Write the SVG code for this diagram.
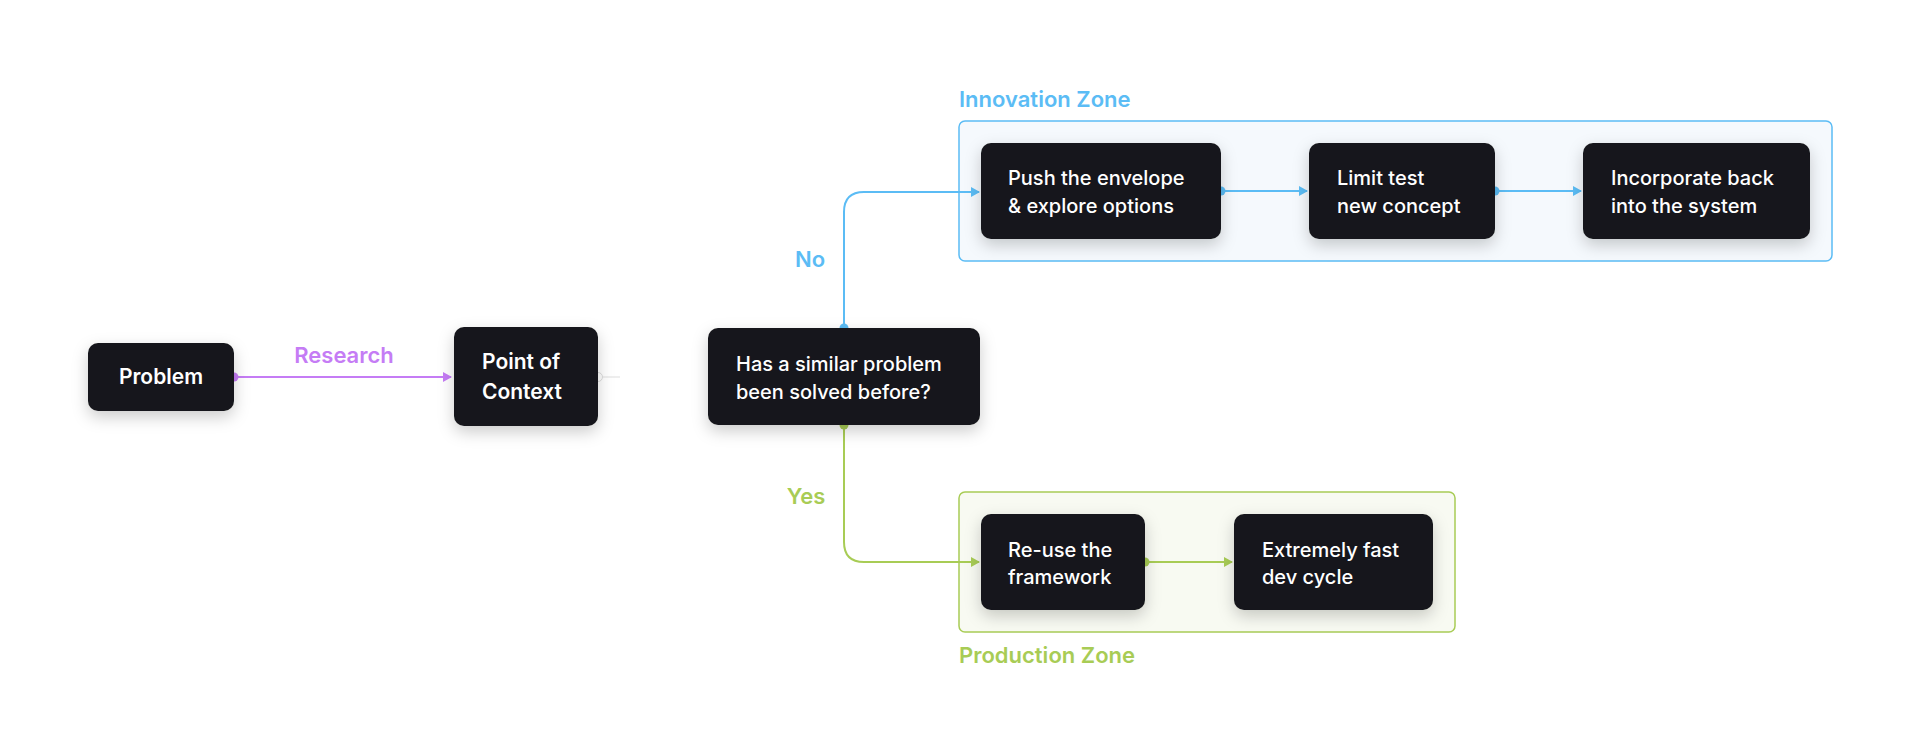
<svg xmlns="http://www.w3.org/2000/svg" width="1920" height="754" viewBox="0 0 1920 754">
<style>
text{font-family:Inter,"Noto Sans",sans-serif}
.n{fill:#17191c}
.t{fill:#fff;font-size:20px;font-weight:500}
.tb{fill:#fff;font-size:21px;font-weight:600}
.lbl{font-size:22px;font-weight:600}
</style>
<defs>
<filter id="sh" x="-20%" y="-20%" width="140%" height="160%"><feDropShadow dx="0" dy="6" stdDeviation="8" flood-color="#000" flood-opacity="0.2"/></filter>
<marker id="ap" markerWidth="10" markerHeight="10" refX="8" refY="5" orient="auto" markerUnits="userSpaceOnUse"><path d="M0,0 L9,5 L0,10 z" fill="#c57cf5"/></marker>
<marker id="ab" markerWidth="10" markerHeight="10" refX="8" refY="5" orient="auto" markerUnits="userSpaceOnUse"><path d="M0,0 L9,5 L0,10 z" fill="#5bbcf5"/></marker>
<marker id="ag" markerWidth="10" markerHeight="10" refX="8" refY="5" orient="auto" markerUnits="userSpaceOnUse"><path d="M0,0 L9,5 L0,10 z" fill="#a8cc55"/></marker>
</defs>
<rect width="1920" height="754" fill="#fff"/>
<g id="innovation-zone">
<rect x="959" y="121" width="873" height="140" rx="6" fill="#f5f9fd" stroke="#5bbcf5" stroke-width="1.5"/>
<text x="959" y="107" class="lbl" fill="#5bbcf5">Innovation Zone</text>
</g>
<g id="production-zone">
<rect x="959" y="492" width="496" height="140" rx="6" fill="#f8faf2" stroke="#a8cc55" stroke-width="1.5"/>
<text x="959" y="663" class="lbl" fill="#a8cc55">Production Zone</text>
</g>
<g id="connectors" fill="none" stroke-width="2">
<line x1="234" y1="377" x2="451" y2="377" stroke="#c57cf5" marker-end="url(#ap)"/>
<line x1="598" y1="377" x2="620" y2="377" stroke="#eee"/>
<path d="M844,328 V212 Q844,192 864,192 H979" stroke="#5bbcf5" marker-end="url(#ab)"/>
<line x1="1221" y1="191" x2="1307" y2="191" stroke="#5bbcf5" marker-end="url(#ab)"/>
<line x1="1495" y1="191" x2="1581" y2="191" stroke="#5bbcf5" marker-end="url(#ab)"/>
<path d="M844,425 V542 Q844,562 864,562 H979" stroke="#a8cc55" marker-end="url(#ag)"/>
<line x1="1145" y1="562" x2="1232" y2="562" stroke="#a8cc55" marker-end="url(#ag)"/>
<g stroke="none">
<circle cx="234" cy="377" r="4.5" fill="#c57cf5"/>
<circle cx="598" cy="377" r="4.5" fill="#fff" stroke="#ddd" stroke-width="1"/>
<circle cx="844" cy="328" r="4.5" fill="#5bbcf5"/>
<circle cx="1221" cy="191" r="4.5" fill="#5bbcf5"/>
<circle cx="1495" cy="191" r="4.5" fill="#5bbcf5"/>
<circle cx="844" cy="425" r="4.5" fill="#a8cc55"/>
<circle cx="1145" cy="562" r="4.5" fill="#a8cc55"/>
</g>
<text x="344" y="363" class="lbl" fill="#c57cf5" stroke="none" text-anchor="middle">Research</text>
<text x="810" y="267" class="lbl" fill="#5bbcf5" stroke="none" text-anchor="middle">No</text>
<text x="806" y="504" class="lbl" fill="#a8cc55" stroke="none" text-anchor="middle">Yes</text>
</g>
<g id="problem"><rect x="88" y="343" width="146" height="68" rx="10" class="n" filter="url(#sh)"/><text x="161" y="384" class="tb" text-anchor="middle">Problem</text></g>
<g id="point-of-context"><rect x="454" y="327" width="144" height="99" rx="10" class="n" filter="url(#sh)"/><text x="482" y="369" class="tb">Point of</text><text x="482" y="399" class="tb">Context</text></g>
<g id="question"><rect x="708" y="328" width="272" height="97" rx="10" class="n" filter="url(#sh)"/><text x="736" y="371" class="t">Has a similar problem</text><text x="736" y="399" class="t">been solved before?</text></g>
<g id="push"><rect x="981" y="143" width="240" height="96" rx="10" class="n" filter="url(#sh)"/><text x="1008" y="185" class="t">Push the envelope</text><text x="1008" y="213" class="t">&amp; explore options</text></g>
<g id="limit"><rect x="1309" y="143" width="186" height="96" rx="10" class="n" filter="url(#sh)"/><text x="1337" y="185" class="t">Limit test</text><text x="1337" y="213" class="t">new concept</text></g>
<g id="incorporate"><rect x="1583" y="143" width="227" height="96" rx="10" class="n" filter="url(#sh)"/><text x="1611" y="185" class="t">Incorporate back</text><text x="1611" y="213" class="t">into the system</text></g>
<g id="reuse"><rect x="981" y="514" width="164" height="96" rx="10" class="n" filter="url(#sh)"/><text x="1008" y="557" class="t">Re-use the</text><text x="1008" y="584" class="t">framework</text></g>
<g id="fast"><rect x="1234" y="514" width="199" height="96" rx="10" class="n" filter="url(#sh)"/><text x="1262" y="557" class="t">Extremely fast</text><text x="1262" y="584" class="t">dev cycle</text></g>
</svg>
